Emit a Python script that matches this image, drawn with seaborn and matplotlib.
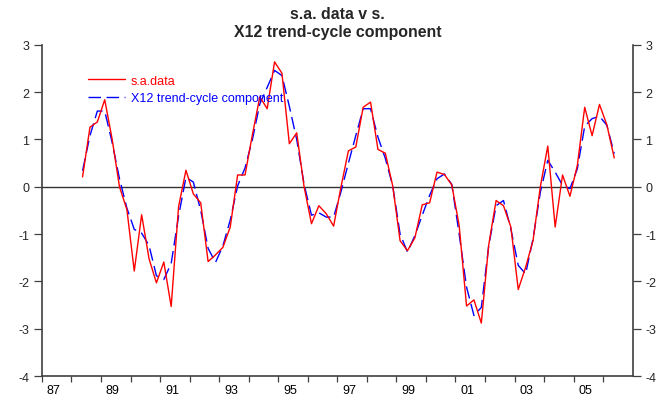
import numpy as np
import pandas as pd
import matplotlib
matplotlib.use("Agg")
import matplotlib.pyplot as plt
import seaborn as sns

# ---- data (quarterly, 1988Q2 .. 2006Q2) ----
start_quarter = "1988Q2"
sa_data = [0.21, 1.26, 1.37, 1.84, 1.01, 0.00, -0.48, -1.78, -0.59, -1.52,
           -2.03, -1.59, -2.53, -0.42, 0.35, -0.15, -0.34, -1.58, -1.44, -1.28,
           -0.85, 0.25, 0.25, 1.10, 1.90, 1.65, 2.64, 2.40, 0.91, 1.14,
           0.00, -0.78, -0.40, -0.57, -0.83, 0.00, 0.76, 0.84, 1.68, 1.79,
           0.79, 0.71, 0.02, -1.14, -1.35, -1.08, -0.38, -0.34, 0.31, 0.26,
           0.04, -0.82, -2.52, -2.39, -2.88, -1.23, -0.29, -0.40, -0.85, -2.17,
           -1.70, -1.14, 0.01, 0.86, -0.85, 0.25, -0.20, 0.45, 1.68, 1.08,
           1.74, 1.31, 0.61]
trend = [0.34, 1.08, 1.60, 1.60, 0.94, 0.17, -0.45, -0.90, -0.98, -1.24,
         -1.88, -1.96, -1.62, -0.62, 0.20, 0.10, -0.50, -1.30, -1.60, -1.25,
         -0.70, 0.02, 0.40, 1.00, 1.75, 2.10, 2.46, 2.35, 1.70, 1.00,
         0.05, -0.60, -0.55, -0.64, -0.64, -0.10, 0.50, 1.08, 1.65, 1.65,
         1.05, 0.60, 0.02, -1.00, -1.38, -1.03, -0.60, -0.18, 0.17, 0.27,
         0.05, -1.00, -2.12, -2.72, -2.55, -1.25, -0.40, -0.29, -0.89, -1.66,
         -1.84, -1.10, -0.11, 0.56, 0.31, 0.03, -0.04, 0.38, 1.28, 1.44,
         1.49, 1.30, 0.70]
series_names = ["s.a.data", "X12 trend-cycle component"]
series_colors = ["#ff0000", "#0000ff"]
x_tick_years = list(range(1987, 2007, 2))
x_tick_labels = ["87", "89", "91", "93", "95", "97", "99", "01", "03", "05"]
y_ticks = [-4, -3, -2, -1, 0, 1, 2, 3]

periods = pd.period_range(start_quarter, periods=len(sa_data), freq="Q")
xpos = periods.year + (periods.quarter - 1) / 4 + 0.125

df = pd.DataFrame({"x": xpos, "sa": sa_data, "trend": trend})

sns.set_theme(style="white")
plt.rcParams["font.family"] = ["Liberation Sans", "DejaVu Sans"]

fig = plt.figure(figsize=(6.66, 4.02), dpi=100)
ax = fig.add_axes([0.063, 0.062, 0.887, 0.824])

ax.axhline(0, color="#333333", lw=1.0, zorder=1)
sns.lineplot(data=df, x="x", y="sa", ax=ax, color=series_colors[0], lw=1.0,
             label=series_names[0], zorder=3)
sns.lineplot(data=df, x="x", y="trend", ax=ax, color=series_colors[1], lw=1.0,
             label=series_names[1], zorder=2, dashes=False)
ax.lines[-1].set_dashes([9, 4])

ax.set_xlim(1987, 2007)
ax.set_ylim(-4, 3)
ax.set_xlabel("")
ax.set_ylabel("")

# x: year tick marks (minor) with labels centered within years
ax.set_xticks(np.arange(1987, 2007), minor=True)
ax.set_xticks([y + 0.4 for y in x_tick_years])
ax.set_xticklabels(x_tick_labels, fontsize=9)
ax.tick_params(axis="x", which="major", length=0, pad=6, colors="black")
ax.tick_params(axis="x", which="minor", length=4.3, width=0.9, color="#404040",
               direction="out", bottom=True)

ax.set_yticks(y_ticks)
ax.set_yticklabels([str(v) for v in y_ticks], fontsize=9)
ax.tick_params(axis="y", which="major", length=6, width=0.9, color="#404040",
               direction="out", left=True, right=True, labelleft=True,
               labelright=True, pad=3)

for side in ["left", "right", "bottom"]:
    ax.spines[side].set_visible(True)
    ax.spines[side].set_color("#404040")
    ax.spines[side].set_linewidth(1.2)
ax.spines["top"].set_visible(False)
ax.grid(False)

fig.suptitle("s.a. data v s.\nX12 trend-cycle component", fontsize=11.4,
             fontweight="bold", x=0.507, y=0.982, linespacing=1.2)

leg = ax.legend(loc="upper left", bbox_to_anchor=(0.07, 0.925), frameon=False,
                fontsize=9, handlelength=2.9, handletextpad=0.48, borderaxespad=0,
                labelspacing=0.45)
for txt, c in zip(leg.get_texts(), series_colors):
    txt.set_color(c)

fig.savefig("out.png", dpi=100)
